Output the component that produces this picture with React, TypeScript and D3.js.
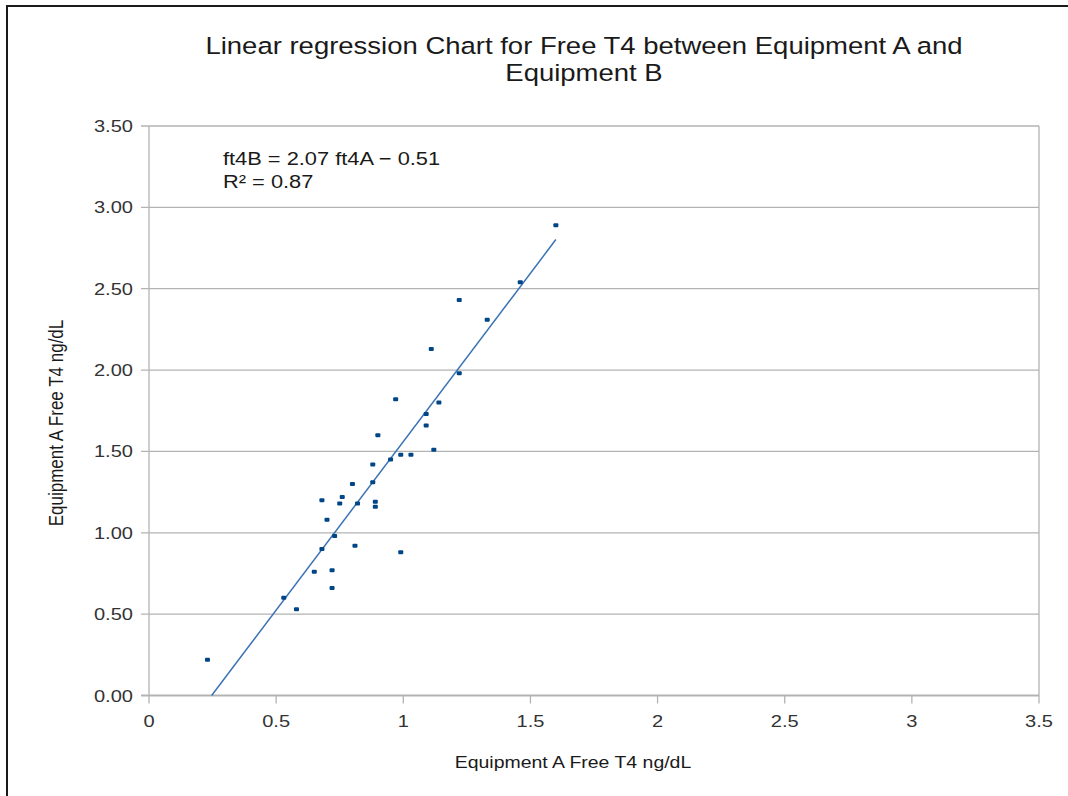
import React, { useEffect, useRef } from "react";
import * as d3 from "d3";

// Equipment A (x) and Equipment B (y) free T4 readings, ng/dL
const ft4A = [
  0.23, 0.53, 0.58, 0.65, 0.68, 0.68, 0.7, 0.72, 0.72, 0.73, 0.75, 0.76,
  0.8, 0.81, 0.82, 0.88, 0.88, 0.89, 0.89, 0.9, 0.95, 0.97, 0.99, 0.99,
  1.03, 1.09, 1.09, 1.12, 1.14, 1.11, 1.22, 1.22, 1.33, 1.46, 1.6,
];
const ft4B = [
  0.22, 0.6, 0.53, 0.76, 0.9, 1.2, 1.08, 0.77, 0.66, 0.98, 1.18, 1.22,
  1.3, 0.92, 1.18, 1.42, 1.31, 1.19, 1.16, 1.6, 1.45, 1.82, 1.48, 0.88,
  1.48, 1.73, 1.66, 1.51, 1.8, 2.13, 1.98, 2.43, 2.31, 2.54, 2.89,
];

const slope = 2.07;
const intercept = -0.51;
const rSquared = 0.87;

const xTicks = [0, 0.5, 1, 1.5, 2, 2.5, 3, 3.5];
const yTicks = [0, 0.5, 1, 1.5, 2, 2.5, 3, 3.5];

const titleLines = [
  "Linear regression Chart for Free T4 between Equipment A and",
  "Equipment B",
];
const xTitle = "Equipment A Free T4 ng/dL";
const yTitle = "Equipment A Free T4 ng/dL";

const W = 1068;
const H = 796;
const SX = 1.18; // the source picture is stretched sideways
const FONT = "'Liberation Sans', Arial, sans-serif";

function App() {
  const ref = useRef<SVGSVGElement>(null);

  useEffect(() => {
    const svg = d3.select(ref.current);
    svg.selectAll("*").remove();

    const x = d3.scaleLinear().domain([0, 3.5]).range([149, 1039]);
    const y = d3.scaleLinear().domain([0, 3.5]).range([695.5, 126]);

    const label = (
      px: number,
      py: number,
      text: string,
      size: number,
      anchor: string,
      fill: string,
      rot = 0
    ) =>
      svg
        .append("text")
        .attr(
          "transform",
          `translate(${px},${py}) scale(${SX},1)` + (rot ? ` rotate(${rot})` : "")
        )
        .attr("text-anchor", anchor)
        .attr("font-family", FONT)
        .attr("font-size", size)
        .attr("fill", fill)
        .text(text);

    // outer frame (top and left only)
    svg
      .append("path")
      .attr("d", `M7,${H} L7,6 L${W},6`)
      .attr("fill", "none")
      .attr("stroke", "#1a1a1a")
      .attr("stroke-width", 2);

    // horizontal gridlines + y ticks
    svg
      .append("g")
      .selectAll("line")
      .data(yTicks.filter((d) => d > 0))
      .enter()
      .append("line")
      .attr("x1", 141)
      .attr("x2", x(3.5))
      .attr("y1", (d) => y(d))
      .attr("y2", (d) => y(d))
      .attr("stroke", "#b3b3b3")
      .attr("stroke-width", 1.3);

    // x ticks
    svg
      .append("g")
      .selectAll("line")
      .data(xTicks)
      .enter()
      .append("line")
      .attr("x1", (d) => x(d))
      .attr("x2", (d) => x(d))
      .attr("y1", (d) => (d === 0 || d === 3.5 ? y(3.5) : y(0)))
      .attr("y2", y(0) + 8)
      .attr("stroke", "#b3b3b3")
      .attr("stroke-width", 1.3);

    // x axis line
    svg
      .append("line")
      .attr("x1", 141)
      .attr("x2", x(3.5))
      .attr("y1", y(0))
      .attr("y2", y(0))
      .attr("stroke", "#b3b3b3")
      .attr("stroke-width", 2.2);

    // tick labels
    yTicks.forEach((d) => label(133, y(d) + 6, d.toFixed(2), 17, "end", "#333"));
    xTicks.forEach((d) => label(x(d), 727, String(d), 17, "middle", "#333"));

    // trend line
    const x0 = Math.max(d3.min(ft4A) as number, -intercept / slope);
    const x1 = d3.max(ft4A) as number;
    const line = d3
      .line<number>()
      .x((d) => x(d))
      .y((d) => y(slope * d + intercept));
    svg
      .append("path")
      .datum([x0, x1])
      .attr("d", line)
      .attr("fill", "none")
      .attr("stroke", "#3a73b3")
      .attr("stroke-width", 1.5);

    // points
    svg
      .append("g")
      .selectAll("rect")
      .data(ft4A.map((a, i) => [a, ft4B[i]]))
      .enter()
      .append("rect")
      .attr("x", (d) => x(d[0]) - 2.5)
      .attr("y", (d) => y(d[1]) - 2)
      .attr("width", 5)
      .attr("height", 4)
      .attr("rx", 1)
      .attr("fill", "#004586");

    // equation
    label(223, 165, `ft4B = ${slope.toFixed(2)} ft4A \u2212 ${Math.abs(intercept).toFixed(2)}`, 18.5, "start", "#1a1a1a");
    label(223, 188, `R\u00b2 = ${rSquared.toFixed(2)}`, 18.5, "start", "#1a1a1a");

    // titles
    titleLines.forEach((t, i) => label(584, 54 + i * 27, t, 23.3, "middle", "#1a1a1a"));
    label(573, 768, xTitle, 16.5, "middle", "#1a1a1a");
    label(63, 423, yTitle, 17, "middle", "#1a1a1a", -90);
  }, []);

  return (
    <svg
      ref={ref}
      width={W}
      height={H}
      style={{ position: "absolute", left: 0, top: 0, background: "#fff" }}
    />
  );
}

export default App;
